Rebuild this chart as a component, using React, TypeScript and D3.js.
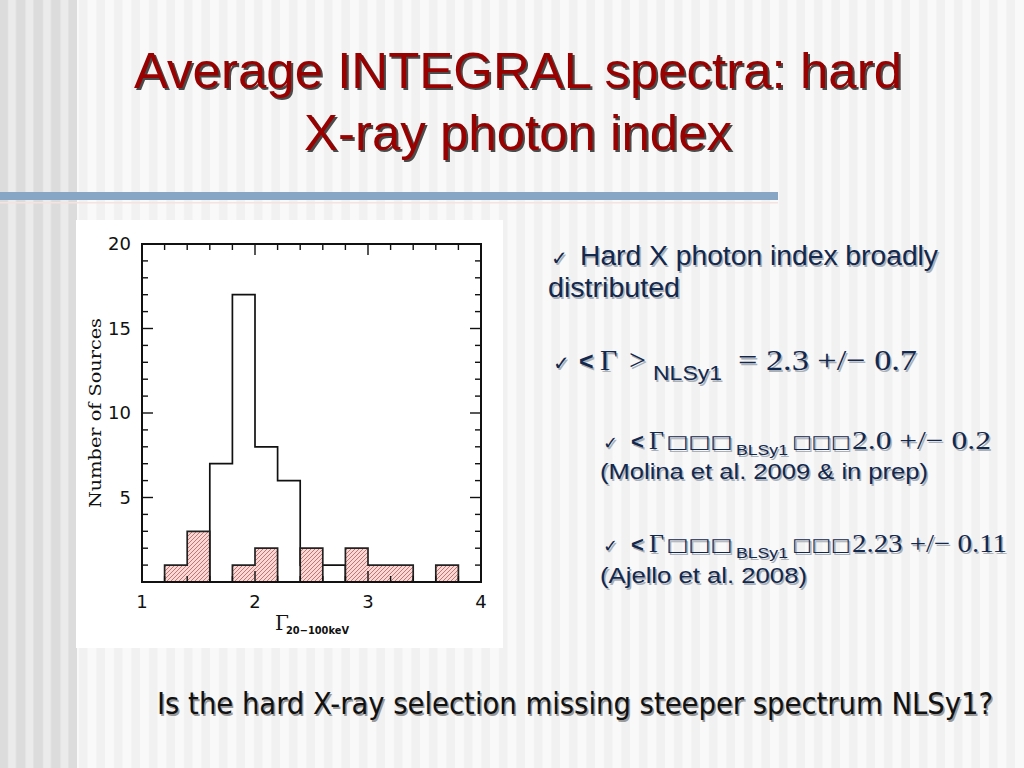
import * as d3 from 'd3';

// histogram bins (width 0.2) of the 20-100 keV photon index
const binStarts = [1.2, 1.4, 1.6, 1.8, 2.0, 2.2, 2.4, 2.6, 2.8, 3.0, 3.2, 3.4, 3.6];
const binWidth = 0.2;
const blsy1Counts = [0, 0, 7, 17, 8, 6, 1, 1, 0, 0, 0, 0, 0];
const nlsy1Counts = [1, 3, 0, 1, 2, 0, 2, 0, 2, 1, 1, 0, 1];

const xTickLabels = [1, 2, 3, 4];
const yTickLabels = [5, 10, 15, 20];

const titleLines = ['Average INTEGRAL spectra: hard', 'X-ray photon index'];

const NAVY = '#13284d';
const SHADOW = '#aab0b8';
const SANS = 'Liberation Sans, Arial, sans-serif';
const SERIF = 'Liberation Serif, Times New Roman, serif';

const x = d3.scaleLinear().domain([1, 4]).range([142, 481]);
const y = d3.scaleLinear().domain([0, 20]).range([582, 244]);

function stepPath(counts: number[]) {
  const pts: [number, number][] = [[binStarts[0], 0]];
  counts.forEach((c, i) => {
    pts.push([binStarts[i], c]);
    pts.push([binStarts[i] + binWidth, c]);
  });
  pts.push([binStarts[binStarts.length - 1] + binWidth, 0]);
  return d3
    .line<[number, number]>()
    .x((d) => x(d[0]))
    .y((d) => y(d[1]))(pts) as string;
}

function Shadowed({ children, dx = 1.5, dy = 1.5, color = SHADOW, ...rest }: any) {
  return (
    <g>
      <g transform={`translate(${dx},${dy})`}>
        <text {...rest} fill={color}>{children}</text>
      </g>
      <text {...rest}>{children}</text>
    </g>
  );
}

function Histogram() {
  const xt = x.ticks(15);
  const yt = y.ticks(20);
  const [x0, x1] = x.range();
  const [y0, y1] = y.range();
  return (
    <g>
      <rect x={76} y={220} width={427} height={428} fill="#fff" />
      <path d={stepPath(blsy1Counts)} fill="none" stroke="#111" strokeWidth={1.7} />
      <path d={stepPath(nlsy1Counts)} fill="url(#hatch)" stroke="#222" strokeWidth={1.7} />
      {/* ticks on all four sides, pointing inward */}
      {xt.map((t) => {
        const len = Math.abs(t - Math.round(t)) < 1e-6 ? 11 : 6;
        return (
          <g key={'x' + t} stroke="#111" strokeWidth={1.4}>
            <line x1={x(t)} x2={x(t)} y1={y0} y2={y0 - len} />
            <line x1={x(t)} x2={x(t)} y1={y1} y2={y1 + len} />
          </g>
        );
      })}
      {yt.map((t) => {
        const len = t % 5 === 0 ? 11 : 6;
        return (
          <g key={'y' + t} stroke="#111" strokeWidth={1.4}>
            <line x1={x0} x2={x0 + len} y1={y(t)} y2={y(t)} />
            <line x1={x1} x2={x1 - len} y1={y(t)} y2={y(t)} />
          </g>
        );
      })}
      <rect x={x0} y={y1} width={x1 - x0} height={y0 - y1} fill="none" stroke="#111" strokeWidth={2} />
      {xTickLabels.map((t) => (
        <text key={'xl' + t} x={x(t)} y={608} textAnchor="middle" fontFamily="DejaVu Sans" fontSize={18} fill="#111">
          {t}
        </text>
      ))}
      {yTickLabels.map((t) => (
        <text key={'yl' + t} x={131} y={y(t) + 6} textAnchor="end" fontFamily="DejaVu Sans" fontSize={18} fill="#111">
          {t}
        </text>
      ))}
      <text
        transform="translate(101,413) rotate(-90)"
        textAnchor="middle"
        fontFamily="DejaVu Serif"
        fontSize={17}
        textLength={190}
        lengthAdjust="spacingAndGlyphs"
        fill="#111"
      >
        Number of Sources
      </text>
      <text x={275} y={630} fontFamily="DejaVu Serif" fontSize={20} fill="#111">
        Γ
      </text>
      <text x={286} y={634} fontFamily="DejaVu Sans" fontWeight="bold" fontSize={10.5} textLength={63} lengthAdjust="spacingAndGlyphs" fill="#111">
        20−100keV
      </text>
    </g>
  );
}

function Background() {
  return (
    <g>
      <rect width={1024} height={768} fill="url(#stripesLight)" />
      <rect width={77} height={768} fill="url(#stripesDark)" />
      <rect x={0} y={192} width={778} height={8} fill="#87a5c5" />
      <rect x={0} y={202} width={778} height={1.5} fill="#f3e4e2" />
    </g>
  );
}

const subRows = [
  { y: 449, value: '2.0 +/− 0.2', w: 139, ref: '(Molina et al. 2009 & in prep)', refY: 479, rw: 328 },
  { y: 552, value: '2.23 +/− 0.11', w: 155, ref: '(Ajello et al. 2008)', refY: 583, rw: 207 },
];

export default function App() {
  return (
    <div>
      <style>{`body{margin:0;}`}</style>
      <svg width={1024} height={768} viewBox="0 0 1024 768" style={{ display: 'block' }}>
        <defs>
          <pattern id="stripesLight" patternUnits="userSpaceOnUse" width={17.5} height={10}>
            <rect width={17.5} height={10} fill="#f1f1f1" />
            <rect x={0} width={9} height={10} fill="#f9f9f9" />
          </pattern>
          <pattern id="stripesDark" patternUnits="userSpaceOnUse" width={17.5} height={10}>
            <rect width={17.5} height={10} fill="#dcdcdc" />
            <rect x={8} width={8} height={10} fill="#ebebeb" />
          </pattern>
          <pattern id="hatch" patternUnits="userSpaceOnUse" width={4} height={4}>
            <rect width={4} height={4} fill="#f6d9d6" />
            <path d="M-1,1 l2,-2 M0,4 l4,-4 M3,5 l2,-2" stroke="#c36862" strokeWidth={0.9} />
          </pattern>
        </defs>
        <Background />

        {titleLines.map((line, i) => (
          <Shadowed
            key={line}
            x={518}
            y={88 + i * 62}
            textAnchor="middle"
            fontFamily={SANS}
            fontSize={50}
            fill="#990000"
            color="#4a4a4a"
            dx={2}
            dy={2}
            textLength={i === 0 ? 768 : 428}
            lengthAdjust="spacingAndGlyphs"
          >
            {line}
          </Shadowed>
        ))}

        <Histogram />

        {/* bullet text */}
        <g>
          <Shadowed x={551} y={265} fontFamily="DejaVu Sans" fontSize={20} fill={NAVY}>✓</Shadowed>
          <Shadowed x={580} y={265} fontFamily={SANS} fontSize={27} fill={NAVY} textLength={358} lengthAdjust="spacingAndGlyphs">
            Hard X photon index broadly
          </Shadowed>
          <Shadowed x={548} y={297} fontFamily={SANS} fontSize={27} fill={NAVY} textLength={132} lengthAdjust="spacingAndGlyphs">
            distributed
          </Shadowed>

          <Shadowed x={553} y={370} fontFamily="DejaVu Sans" fontSize={20} fill={NAVY}>✓</Shadowed>
          <Shadowed x={579} y={370} fontFamily={SANS} fontWeight="bold" fontSize={25} fill={NAVY}>&lt;</Shadowed>
          <Shadowed x={600} y={370} fontFamily={SERIF} fontSize={30} fill={NAVY}>Γ</Shadowed>
          <Shadowed x={629} y={370} fontFamily={SERIF} fontSize={30} fill={NAVY}>&gt;</Shadowed>
          <Shadowed x={653} y={380} fontFamily={SANS} fontSize={20} fill={NAVY} textLength={69} lengthAdjust="spacingAndGlyphs">NLSy1</Shadowed>
          <Shadowed x={738} y={370} fontFamily={SERIF} fontSize={30} fill={NAVY} textLength={179} lengthAdjust="spacingAndGlyphs">= 2.3 +/− 0.7</Shadowed>

          {subRows.map((row) => (
            <g key={row.y}>
              <Shadowed x={603} y={row.y} fontFamily="DejaVu Sans" fontSize={18} fill={NAVY}>✓</Shadowed>
              <Shadowed x={631} y={row.y} fontFamily={SANS} fontWeight="bold" fontSize={22} fill={NAVY}>&lt;</Shadowed>
              <Shadowed x={649} y={row.y} fontFamily={SERIF} fontSize={26} fill={NAVY}>Γ</Shadowed>
              <Shadowed x={666} y={row.y - 1} fontFamily="DejaVu Sans" fontSize={18} fill={NAVY} textLength={66} lengthAdjust="spacingAndGlyphs">□□□</Shadowed>
              <Shadowed x={736} y={row.y + 6} fontFamily={SANS} fontSize={15} fill={NAVY} textLength={52} lengthAdjust="spacingAndGlyphs">BLSy1</Shadowed>
              <Shadowed x={792} y={row.y - 1} fontFamily="DejaVu Sans" fontSize={18} fill={NAVY} textLength={58} lengthAdjust="spacingAndGlyphs">□□□</Shadowed>
              <Shadowed x={852} y={row.y} fontFamily={SERIF} fontSize={26} fill={NAVY} textLength={row.w} lengthAdjust="spacingAndGlyphs">{row.value}</Shadowed>
              <Shadowed x={600} y={row.refY} fontFamily={SANS} fontSize={22} fill={NAVY} textLength={row.rw} lengthAdjust="spacingAndGlyphs">{row.ref}</Shadowed>
            </g>
          ))}
        </g>

        <Shadowed
          x={157}
          y={714}
          fontFamily="DejaVu Sans Condensed, DejaVu Sans"
          fontSize={31}
          fill="#111"
          color="#9a9a9a"
          textLength={836}
          lengthAdjust="spacingAndGlyphs"
        >
          Is the hard X-ray selection missing steeper spectrum NLSy1?
        </Shadowed>
      </svg>
    </div>
  );
}
